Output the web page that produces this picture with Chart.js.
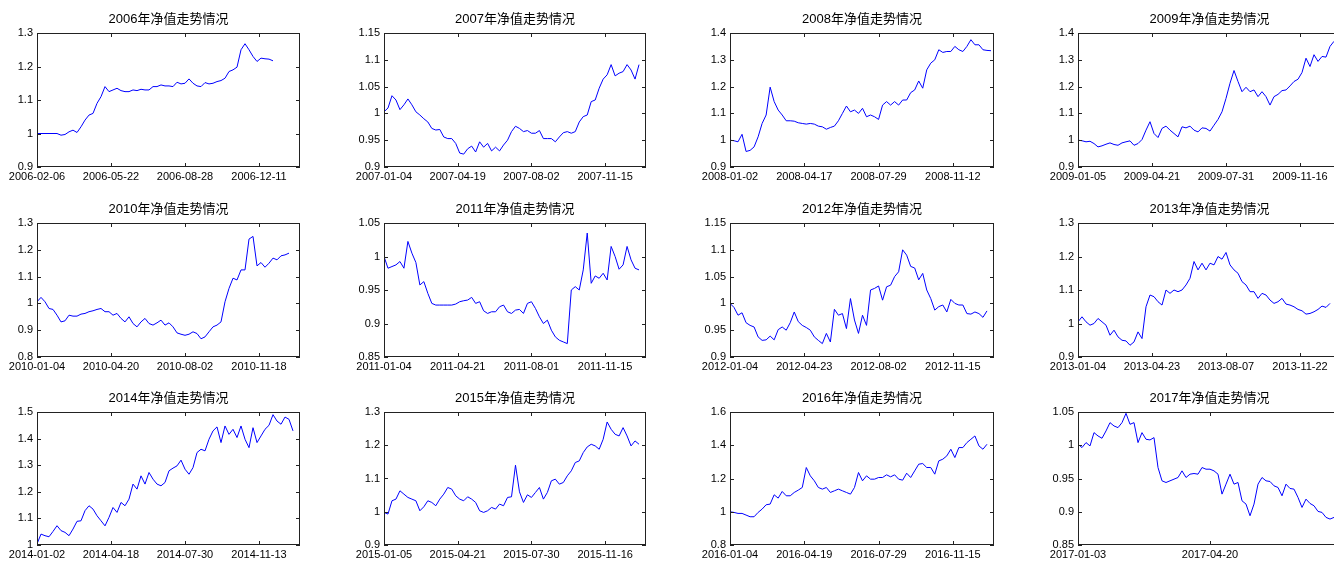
<!DOCTYPE html>
<html><head><meta charset="utf-8">
<script src="https://cdn.jsdelivr.net/npm/chart.js@4.4.1/dist/chart.umd.min.js"></script>
<style>
html,body{margin:0;padding:0;background:#fff;width:1334px;height:564px;overflow:hidden;position:relative;}
canvas{position:absolute;}
</style></head><body>
<script>
// ---------- data (one sample every ~4 px of the original plot) ----------
const titles = ['2006年净值走势情况','2007年净值走势情况','2008年净值走势情况','2009年净值走势情况',
  '2010年净值走势情况','2011年净值走势情况','2012年净值走势情况','2013年净值走势情况',
  '2014年净值走势情况','2015年净值走势情况','2016年净值走势情况','2017年净值走势情况'];

const dates2006 = ['2006-02-06','2006-05-22','2006-08-28','2006-12-11'];
const dates2007 = ['2007-01-04','2007-04-19','2007-08-02','2007-11-15'];
const dates2008 = ['2008-01-02','2008-04-17','2008-07-29','2008-11-12'];
const dates2009 = ['2009-01-05','2009-04-21','2009-07-31','2009-11-16'];
const dates2010 = ['2010-01-04','2010-04-20','2010-08-02','2010-11-18'];
const dates2011 = ['2011-01-04','2011-04-21','2011-08-01','2011-11-15'];
const dates2012 = ['2012-01-04','2012-04-23','2012-08-02','2012-11-15'];
const dates2013 = ['2013-01-04','2013-04-23','2013-08-07','2013-11-22'];
const dates2014 = ['2014-01-02','2014-04-18','2014-07-30','2014-11-13'];
const dates2015 = ['2015-01-05','2015-04-21','2015-07-30','2015-11-16'];
const dates2016 = ['2016-01-04','2016-04-19','2016-07-29','2016-11-15'];
const dates2017 = ['2017-01-03','2017-04-20'];

// tick positions in sample-index units
const xTickIdx = [0, 18.5, 37, 55.5];
const xTickIdx2017 = [0, 33];
const X_MAX = 65.75;

const yTicks2006 = [0.9,1,1.1,1.2,1.3];
const yTicks2007 = [0.9,0.95,1,1.05,1.1,1.15];
const yTicks2008 = [0.9,1,1.1,1.2,1.3,1.4];
const yTicks2009 = [0.9,1,1.1,1.2,1.3,1.4];
const yTicks2010 = [0.8,0.9,1,1.1,1.2,1.3];
const yTicks2011 = [0.85,0.9,0.95,1,1.05];
const yTicks2012 = [0.9,0.95,1,1.05,1.1,1.15];
const yTicks2013 = [0.9,1,1.1,1.2,1.3];
const yTicks2014 = [1,1.1,1.2,1.3,1.4,1.5];
const yTicks2015 = [0.9,1,1.1,1.2,1.3];
const yTicks2016 = [0.8,1,1.2,1.4,1.6];
const yTicks2017 = [0.85,0.9,0.95,1,1.05];

const nav2006 = [1.0,1.0,1.0,1.0,1.0,1.0,0.995,0.997,1.005,1.01,1.003,1.02,1.04,1.055,1.06,1.09,1.11,1.14,1.125,1.13,
  1.135,1.128,1.125,1.125,1.13,1.128,1.132,1.13,1.13,1.14,1.14,1.145,1.142,1.142,1.14,1.153,1.148,1.15,1.163,1.15,
  1.142,1.14,1.152,1.148,1.15,1.155,1.158,1.165,1.185,1.19,1.198,1.25,1.268,1.25,1.23,1.215,1.225,1.223,1.222,1.217];
const nav2007 = [1.003,1.01,1.033,1.025,1.007,1.016,1.027,1.016,1.003,0.997,0.99,0.984,0.972,0.969,0.97,0.956,0.953,0.953,0.944,0.926,
  0.924,0.934,0.939,0.928,0.947,0.937,0.944,0.93,0.937,0.93,0.941,0.95,0.966,0.976,0.972,0.966,0.968,0.963,0.963,0.968,
  0.953,0.953,0.953,0.947,0.956,0.964,0.966,0.963,0.966,0.984,0.994,0.997,1.022,1.025,1.047,1.064,1.072,1.091,1.07,1.075,
  1.078,1.091,1.081,1.064,1.091];
const nav2008 = [1.0,0.998,0.994,1.022,0.958,0.962,0.975,1.0125,1.0625,1.094,1.198,1.144,1.1125,1.094,1.0725,1.0725,1.071,1.065,1.0625,1.06,
  1.0625,1.06,1.0525,1.05,1.041,1.0475,1.0525,1.0725,1.1,1.1275,1.106,1.1125,1.1,1.119,1.0875,1.094,1.0875,1.0775,1.131,1.144,
  1.131,1.144,1.131,1.15,1.15,1.1775,1.1875,1.221,1.194,1.2625,1.2875,1.3,1.3375,1.3275,1.331,1.331,1.35,1.3375,1.331,1.35,
  1.375,1.356,1.356,1.3375,1.335,1.334];
const nav2009 = [1.0,0.998,0.994,0.996,0.9875,0.975,0.979,0.985,0.99,0.984,0.981,0.99,0.994,0.9975,0.981,0.9875,1.0025,1.0375,1.069,1.025,
  1.01,1.044,1.0525,1.0375,1.025,1.0125,1.05,1.046,1.0525,1.0375,1.031,1.046,1.044,1.034,1.056,1.0775,1.106,1.156,1.2125,1.26,
  1.219,1.181,1.1975,1.181,1.1875,1.1625,1.181,1.1625,1.131,1.1625,1.171,1.185,1.1875,1.2025,1.219,1.2275,1.2525,1.306,1.275,1.319,
  1.294,1.3125,1.31,1.35,1.369,1.372];
const nav2010 = [1.006,1.0225,1.006,0.981,0.9775,0.956,0.931,0.935,0.956,0.9525,0.9525,0.96,0.9625,0.969,0.9725,0.9775,0.981,0.969,0.969,0.956,
  0.9625,0.944,0.931,0.95,0.925,0.9125,0.931,0.944,0.925,0.919,0.9275,0.9375,0.919,0.9275,0.9125,0.89,0.885,0.881,0.885,0.894,
  0.8875,0.868,0.875,0.894,0.9125,0.919,0.931,1.006,1.056,1.094,1.0875,1.125,1.125,1.24,1.25,1.14,1.1525,1.135,1.15,1.169,
  1.1625,1.1775,1.181,1.1875];
const nav2011 = [1.0,0.9825,0.985,0.9875,0.9925,0.9825,1.0225,1.005,0.991,0.9575,0.9625,0.945,0.93,0.9275,0.9275,0.9275,0.9275,0.9275,0.929,0.9325,
  0.934,0.935,0.939,0.93,0.9325,0.919,0.915,0.9175,0.9175,0.925,0.9275,0.9175,0.915,0.92,0.921,0.915,0.93,0.9325,0.9225,0.91,
  0.9,0.905,0.89,0.88,0.875,0.8725,0.87,0.95,0.955,0.95,0.98,1.035,0.96,0.971,0.9675,0.975,0.965,1.015,1.0,0.981,
  0.9875,1.015,0.995,0.9825,0.98];
const nav2012 = [1.0,0.9925,0.978,0.9825,0.964,0.959,0.956,0.9375,0.931,0.932,0.939,0.932,0.951,0.956,0.95,0.964,0.984,0.966,0.959,0.955,
  0.95,0.9375,0.931,0.925,0.944,0.928,0.989,0.978,0.981,0.953,1.009,0.969,0.944,0.978,0.959,1.025,1.028,1.0325,1.006,1.031,
  1.034,1.05,1.059,1.1,1.09,1.069,1.066,1.044,1.056,1.025,1.009,0.9875,0.994,0.997,0.984,1.0075,1.0,0.997,0.997,0.981,
  0.98,0.984,0.981,0.974,0.986];
const nav2013 = [1.005,1.02,1.005,0.995,1.0,1.015,1.005,0.995,0.965,0.98,0.96,0.95,0.948,0.935,0.945,0.975,0.955,1.05,1.085,1.08,
  1.065,1.055,1.1,1.09,1.1,1.095,1.1,1.115,1.135,1.185,1.16,1.18,1.16,1.18,1.175,1.2,1.192,1.212,1.175,1.16,
  1.15,1.125,1.115,1.095,1.095,1.075,1.09,1.085,1.07,1.06,1.065,1.075,1.058,1.055,1.05,1.042,1.038,1.028,1.03,1.035,
  1.042,1.052,1.048,1.06];
const nav2014 = [1.004,1.041,1.035,1.031,1.051,1.0725,1.054,1.0475,1.035,1.06,1.089,1.091,1.129,1.1475,1.135,1.11,1.091,1.072,1.104,1.141,
  1.1225,1.16,1.1475,1.1725,1.229,1.21,1.26,1.229,1.2725,1.2475,1.229,1.2225,1.235,1.279,1.289,1.2975,1.319,1.285,1.266,1.291,
  1.3475,1.36,1.354,1.3975,1.429,1.444,1.385,1.4475,1.416,1.435,1.404,1.4475,1.3975,1.366,1.441,1.385,1.41,1.435,1.45,1.49,
  1.466,1.454,1.481,1.4725,1.429];
const nav2015 = [0.998,0.993,1.033,1.038,1.063,1.053,1.043,1.038,1.033,1.003,1.015,1.033,1.028,1.018,1.038,1.053,1.073,1.068,1.048,1.038,
  1.033,1.045,1.038,1.028,1.003,0.998,1.003,1.013,1.008,1.023,1.018,1.043,1.045,1.14,1.06,1.028,1.051,1.043,1.058,1.073,
  1.038,1.058,1.093,1.098,1.083,1.088,1.108,1.123,1.148,1.153,1.178,1.195,1.203,1.198,1.188,1.218,1.27,1.248,1.233,1.228,
  1.253,1.228,1.198,1.213,1.203];
const nav2016 = [1.0,0.996,0.99,0.99,0.98,0.97,0.97,0.996,1.016,1.042,1.046,1.102,1.082,1.122,1.096,1.096,1.116,1.13,1.146,1.266,
  1.216,1.186,1.146,1.136,1.146,1.116,1.126,1.136,1.126,1.116,1.106,1.146,1.236,1.186,1.216,1.196,1.196,1.206,1.206,1.222,
  1.21,1.222,1.196,1.19,1.232,1.206,1.246,1.286,1.29,1.266,1.266,1.226,1.306,1.316,1.336,1.376,1.326,1.386,1.386,1.416,
  1.436,1.456,1.396,1.376,1.406];
const nav2017 = [1.0015,0.9965,1.004,0.999,1.019,1.014,1.0105,1.0215,1.034,1.029,1.0265,1.034,1.048,1.0315,1.034,1.004,1.019,1.009,1.008,1.0115,
  0.9665,0.9465,0.944,0.9465,0.949,0.9515,0.9615,0.9515,0.9565,0.9575,0.9565,0.9665,0.964,0.964,0.9615,0.9565,0.9265,0.9415,0.9565,0.9415,
  0.944,0.9165,0.9115,0.894,0.9115,0.9415,0.9515,0.9465,0.9455,0.939,0.9365,0.924,0.9415,0.935,0.934,0.9215,0.9065,0.919,0.9125,0.909,
  0.9005,0.899,0.8915,0.889,0.8915];

const panels = [
  [titles[0], nav2006, yTicks2006, dates2006, xTickIdx],
  [titles[1], nav2007, yTicks2007, dates2007, xTickIdx],
  [titles[2], nav2008, yTicks2008, dates2008, xTickIdx],
  [titles[3], nav2009, yTicks2009, dates2009, xTickIdx],
  [titles[4], nav2010, yTicks2010, dates2010, xTickIdx],
  [titles[5], nav2011, yTicks2011, dates2011, xTickIdx],
  [titles[6], nav2012, yTicks2012, dates2012, xTickIdx],
  [titles[7], nav2013, yTicks2013, dates2013, xTickIdx],
  [titles[8], nav2014, yTicks2014, dates2014, xTickIdx],
  [titles[9], nav2015, yTicks2015, dates2015, xTickIdx],
  [titles[10], nav2016, yTicks2016, dates2016, xTickIdx],
  [titles[11], nav2017, yTicks2017, dates2017, xTickIdx2017]
];

// ---------- layout ----------
const colX = [0, 340, 690, 1030];
const colL = [37, 384, 730, 1078];
const colR = [300, 646, 994, 1341];
const rowY = [0, 190, 378];
const rowH = [190, 188, 186];
const rowT = [33, 223, 412];
const rowB = [167, 357, 545];
const titleMid = [19, 209, 398.5];
const FONT = '"Liberation Sans", Arial, "Noto Sans CJK SC", sans-serif';

const boxPlugin = {
  id: 'matlabBox',
  afterDraw(chart) {
    const {ctx, chartArea: a} = chart;
    const xs = chart.scales.x, ys = chart.scales.y;
    const tl = 4;
    ctx.save();
    ctx.strokeStyle = '#222';
    ctx.lineWidth = 1;
    ctx.strokeRect(a.left + 0.5, a.top + 0.5, a.right - a.left - 1, a.bottom - a.top - 1);
    ctx.beginPath();
    xs.ticks.forEach(t => {
      const px = Math.round(xs.getPixelForValue(t.value)) + 0.5;
      ctx.moveTo(px, a.bottom); ctx.lineTo(px, a.bottom - tl);
      ctx.moveTo(px, a.top); ctx.lineTo(px, a.top + tl);
    });
    ys.ticks.forEach(t => {
      const py = Math.round(ys.getPixelForValue(t.value)) + 0.5;
      ctx.moveTo(a.left, py); ctx.lineTo(a.left + tl, py);
      ctx.moveTo(a.right, py); ctx.lineTo(a.right - tl, py);
    });
    ctx.stroke();
    ctx.restore();
  }
};

panels.forEach((p, idx) => {
  const [title, values, yTicks, dates, xTicks] = p;
  const c = idx % 4, r = Math.floor(idx / 4);
  const cx = colX[c], cy = rowY[r];
  const cw = colR[c] + 20 - cx, ch = rowH[r];
  const cv = document.createElement('canvas');
  cv.width = cw; cv.height = ch;
  cv.style.left = cx + 'px'; cv.style.top = cy + 'px';
  cv.style.width = cw + 'px'; cv.style.height = ch + 'px';
  document.body.appendChild(cv);
  const yW = colL[c] - cx;
  const xH = cy + ch - rowB[r];
  const tTop = titleMid[r] - cy - 7.8;
  const tBot = rowT[r] - titleMid[r] - 7.8;
  new Chart(cv, {
    type: 'line',
    data: { datasets: [{
      data: values.map((v, i) => ({x: i, y: v})),
      borderColor: '#0000ff', borderWidth: 1, pointRadius: 0, tension: 0, fill: false
    }]},
    options: {
      responsive: false, animation: false, events: [],
      devicePixelRatio: 1,
      layout: { autoPadding: false, padding: {left: 0, top: 0, bottom: 0, right: 20} },
      plugins: {
        legend: {display: false}, tooltip: {enabled: false},
        title: { display: true, text: title, fullSize: false, color: '#000',
          font: {family: FONT, size: 13, weight: 'normal', lineHeight: 1.2},
          padding: {top: tTop, bottom: tBot} }
      },
      scales: {
        x: {
          type: 'linear', min: 0, max: X_MAX,
          grid: {display: false, drawTicks: false}, border: {display: false},
          afterBuildTicks: s => { s.ticks = xTicks.map(v => ({value: v})); },
          afterFit: s => { s.height = xH; },
          ticks: { autoSkip: false, maxRotation: 0, minRotation: 0, padding: 3, color: '#000',
            font: {family: FONT, size: 11}, callback: (v, i) => dates[i] }
        },
        y: {
          type: 'linear', min: yTicks[0], max: yTicks[yTicks.length - 1],
          grid: {display: false, drawTicks: false}, border: {display: false},
          afterBuildTicks: s => { s.ticks = yTicks.map(v => ({value: v})); },
          afterFit: s => { s.width = yW; },
          ticks: { autoSkip: false, padding: 4, color: '#000',
            font: {family: FONT, size: 11}, callback: v => String(Number(v.toFixed(2))) }
        }
      }
    },
    plugins: [boxPlugin]
  });
});
</script>
</body></html>
